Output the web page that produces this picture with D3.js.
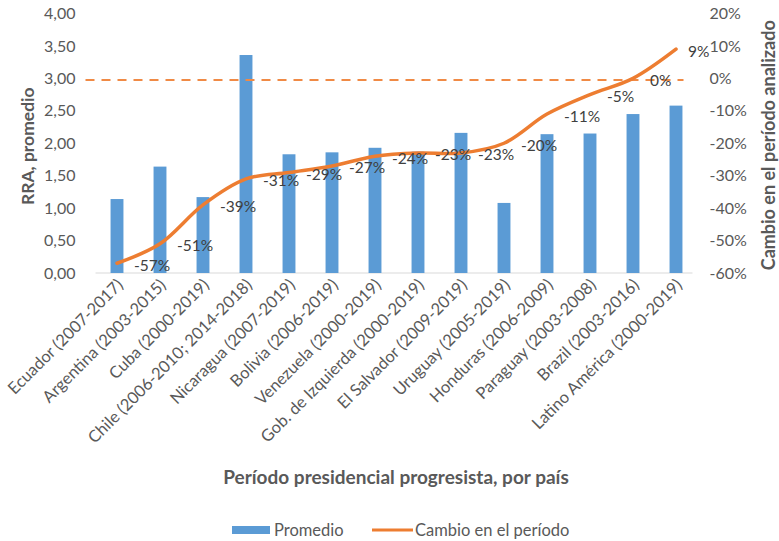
<!DOCTYPE html>
<html><head><meta charset="utf-8">
<script src="https://cdn.jsdelivr.net/npm/d3@7"></script>
<style>body{margin:0;background:#fff}svg{display:block}text{font-family:Lato,"Open Sans",sans-serif}</style>
</head><body><div id="chart"></div>
<script>
const categories = ["Ecuador (2007-2017)","Argentina (2003-2015)","Cuba (2000-2019)","Chile (2006-2010; 2014-2018)","Nicaragua (2007-2019)","Bolivia (2006-2019)","Venezuela (2000-2019)","Gob. de Izquierda (2000-2019)","El Salvador (2009-2019)","Uruguay (2005-2019)","Honduras (2006-2009)","Paraguay (2003-2008)","Brazil (2003-2016)","Latino América (2000-2019)"];
const promedio = [1.14,1.64,1.17,3.36,1.83,1.86,1.93,1.87,2.16,1.08,2.14,2.15,2.45,2.58];
const cambio = [-57,-51,-39,-31,-29,-27,-24,-23,-23,-20,-11,-5,0,9];
const leftTicks = [0,0.5,1,1.5,2,2.5,3,3.5,4];
const rightTicks = [-60,-50,-40,-30,-20,-10,0,10,20];
const referenceLevel = 0;

const W=779,H=541;
const m={l:95.5,r:697.5,t:13.5,b:273};
const svg=d3.select("#chart").append("svg").attr("width",W).attr("height",H);
const x=d3.scaleBand().domain(categories).range([m.l,m.r]).paddingInner(0.7).paddingOuter(0.35);
const yL=d3.scaleLinear().domain([0,4]).range([m.b,m.t]);
const yR=d3.scaleLinear().domain([-60,20]).range([m.b,m.t]);
const grey="#595959";

// axis line
svg.append("line").attr("x1",m.l).attr("x2",m.r-5).attr("y1",m.b).attr("y2",m.b).attr("stroke","#d9d9d9").attr("stroke-width",1);

// left axis
const ga=svg.append("g").attr("transform",`translate(${m.l-17},0)`)
 .call(d3.axisLeft(yL).tickValues(leftTicks).tickSize(0).tickFormat(d=>d3.format(".2f")(d).replace(".",",")));
ga.select(".domain").remove();
ga.selectAll("text").attr("font-size",16).attr("fill",grey);

const gr=svg.append("g").attr("transform",`translate(${m.r+9},0)`)
 .call(d3.axisRight(yR).tickValues(rightTicks).tickSize(0).tickFormat(d=>d+"%"));
gr.select(".domain").remove();
gr.selectAll("text").attr("font-size",16).attr("fill",grey);

// bars
svg.append("g").selectAll("rect").data(promedio).join("rect")
 .attr("x",(d,i)=>x(categories[i])).attr("width",x.bandwidth())
 .attr("y",d=>yL(d)).attr("height",d=>yL(0)-yL(d)).attr("fill","#5B9BD5");

// dashed reference
svg.append("line").attr("x1",m.l-10).attr("x2",m.r-14).attr("y1",yR(referenceLevel)+1.5).attr("y2",yR(referenceLevel)+1.5)
 .attr("stroke","#F08A45").attr("stroke-width",2).attr("stroke-dasharray","9,7");

// line
const cx=i=>x(categories[i])+x.bandwidth()/2;
const line=d3.line().x((d,i)=>cx(i)).y(d=>yR(d)).curve(d3.curveCatmullRom.alpha(0.5));
svg.append("path").datum(cambio).attr("d",line).attr("fill","none").attr("stroke","#ED7D31").attr("stroke-width",3.5).attr("stroke-linecap","round");

// data labels
svg.append("g").selectAll("text").data(cambio).join("text")
 .attr("x",(d,i)=>cx(i)+(i===cambio.length-1?12:17)).attr("y",d=>yR(d)+7.5).attr("font-size",15.5).attr("fill","#404040")
 .text(d=>d+"%");

// x labels
svg.append("g").selectAll("text").data(categories).join("text")
 .attr("transform",(d)=>`translate(${x(d)+x.bandwidth()/2+7},${m.b+13}) rotate(-45)`)
 .attr("text-anchor","end").attr("font-size",16.5).attr("fill",grey).text(d=>d);

// axis titles
svg.append("text").attr("transform",`translate(34,${(m.t+m.b)/2+3}) rotate(-90)`).attr("text-anchor","middle")
 .attr("font-size",17.5).attr("font-weight","bold").attr("fill",grey).text("RRA, promedio");
svg.append("text").attr("transform",`translate(775,${(m.t+m.b)/2+2}) rotate(-90)`).attr("text-anchor","middle")
 .attr("font-size",18).attr("font-weight","bold").attr("fill",grey).text("Cambio en el período analizado");
svg.append("text").attr("x",396).attr("y",484).attr("text-anchor","middle")
 .attr("font-size",19).attr("font-weight","bold").attr("fill",grey).text("Período presidencial progresista, por país");

// legend
const lg=svg.append("g");
lg.append("rect").attr("x",232).attr("y",526).attr("width",38).attr("height",8).attr("fill","#5B9BD5");
lg.append("text").attr("x",274).attr("y",536).attr("font-size",16.5).attr("fill",grey).text("Promedio");
lg.append("line").attr("x1",372).attr("x2",413).attr("y1",530).attr("y2",530).attr("stroke","#ED7D31").attr("stroke-width",3);
lg.append("text").attr("x",415).attr("y",536).attr("font-size",16.5).attr("fill",grey).text("Cambio en el período");
</script></body></html>
